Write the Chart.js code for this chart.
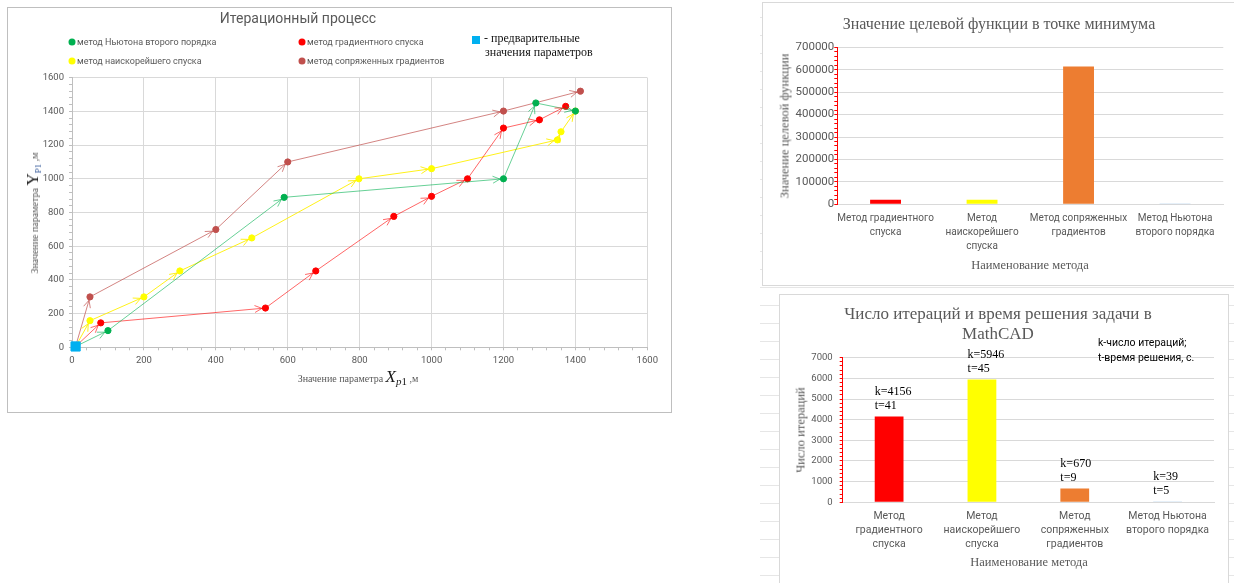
<!DOCTYPE html>
<html>
<head>
<meta charset="utf-8">
<script src="https://cdn.jsdelivr.net/npm/chart.js@4.4.1/dist/chart.umd.min.js"></script>
<style>
  body { margin: 0; width: 1234px; height: 583px; position: relative; overflow: hidden; background: #fff; }
  .sheet { position: absolute; left: 760px; top: 0; width: 474px; height: 583px;
    background: repeating-linear-gradient(to bottom, transparent 0 17px, #E6E6E6 17px 18px); }
  .box { position: absolute; background: #fff; box-sizing: border-box; }
  canvas { position: absolute; }
  .c { position: absolute; white-space: nowrap; transform: translate(-50%, -50%); }
  .l { position: absolute; white-space: nowrap; transform: translateY(-50%); }
  .sans { font-family: Roboto, "Open Sans", sans-serif; color: #595959; }
  .serif { font-family: "Liberation Serif", "Times New Roman", serif; color: #595959; }
  .rot { transform: translate(-50%, -50%) rotate(-90deg); }
  .dot { position: absolute; width: 7px; height: 7px; border-radius: 50%; transform: translate(-50%, -50%); }
</style>
</head>
<body>
<div class="sheet"></div>

<!-- график 1: итерационный процесс -->
<div class="box" style="left:7px;top:7px;width:665px;height:406px;border:1px solid #BFBFBF"></div>
<canvas id="iter" width="663" height="404" style="left:8px;top:8px"></canvas>
<div class="c sans" style="left:298px;top:18px;font-size:14px">Итерационный процесс</div>
<div class="dot" style="left:72px;top:42px;background:#00B050"></div>
<div class="l sans" style="left:77px;top:42px;font-size:9px">метод Ньютона второго порядка</div>
<div class="dot" style="left:72px;top:61px;background:#FFFF00"></div>
<div class="l sans" style="left:77px;top:61px;font-size:9px">метод наискорейшего спуска</div>
<div class="dot" style="left:302px;top:42px;background:#FF0000"></div>
<div class="l sans" style="left:307px;top:42px;font-size:9px">метод градиентного спуска</div>
<div class="dot" style="left:302px;top:61px;background:#C0504D"></div>
<div class="l sans" style="left:307px;top:61px;font-size:9px">метод сопряженных градиентов</div>
<div style="position:absolute;left:472px;top:36px;width:8px;height:8px;background:#00B0F0"></div>
<div class="l serif" style="left:484px;top:38px;font-size:12px;color:#111">- предварительные</div>
<div class="l serif" style="left:485px;top:52px;font-size:12px;color:#111">значения параметров</div>
<div class="c serif rot" style="left:33px;top:213px;font-size:10px">Значение параметра <span style="font-size:17px;color:#1a1a1a">Y</span><sub style="font-size:9px;color:#2F5597">P1</sub> ,м</div>
<div class="c serif" style="left:358px;top:377px;font-size:10px">Значение параметра <i style="font-size:17px;color:#1a1a1a">X</i><sub style="font-size:11px;color:#1a1a1a"><i>p</i>1</sub> ,м</div>

<!-- график 2: значение целевой функции -->
<div class="box" style="left:762px;top:2px;width:480px;height:284px;border:1px solid #D9D9D9"></div>
<canvas id="obj" width="471" height="282" style="left:763px;top:3px"></canvas>
<div class="c serif" style="left:999px;top:24px;font-size:16px">Значение целевой функции в точке минимума</div>
<div class="c serif rot" style="left:785px;top:126px;font-size:12.5px">Значение целевой функции</div>
<div class="c serif" style="left:1030px;top:265px;font-size:12.5px">Наименование метода</div>

<!-- график 3: число итераций -->
<div class="box" style="left:779px;top:294px;width:450px;height:300px;border:1px solid #D9D9D9"></div>
<canvas id="cnt" width="447" height="288" style="left:780px;top:295px"></canvas>
<div class="c serif" style="left:998px;top:314px;font-size:17px">Число итераций и время решения задачи в</div>
<div class="c serif" style="left:998px;top:334px;font-size:17px">MathCAD</div>
<div class="l sans" style="left:1098px;top:342px;font-size:10.5px;color:#000">k-число итераций;</div>
<div class="l sans" style="left:1098px;top:357px;font-size:10.5px;color:#000">t-время решения, с.</div>
<div class="c serif rot" style="left:801px;top:430px;font-size:12.5px">Число итераций</div>
<div class="c serif" style="left:1029px;top:562px;font-size:12.5px">Наименование метода</div>

<script>
Chart.defaults.animation = false;

// ---- данные: итерационный процесс (X, Y в метрах)
const initX = [10];
const initY = [5];
const newtonX = [10, 100, 590, 1200, 1290, 1400];
const newtonY = [5, 99, 890, 1000, 1450, 1402];
const gradX = [10, 80, 538, 678, 895, 1000, 1100, 1200, 1300, 1373];
const gradY = [5, 145, 233, 453, 777, 896, 1000, 1301, 1350, 1430];
const steepX = [10, 50, 200, 300, 500, 798, 1000, 1350, 1360, 1400];
const steepY = [5, 158, 299, 453, 649, 1000, 1060, 1231, 1279, 1402];
const conjX = [10, 50, 400, 600, 1200, 1414];
const conjY = [5, 299, 699, 1100, 1402, 1520];
const iterTicks = [0, 200, 400, 600, 800, 1000, 1200, 1400, 1600];

// ---- данные: сравнение методов
const methodsObj = [
  ['Метод градиентного', 'спуска'],
  ['Метод', 'наискорейшего', 'спуска'],
  ['Метод сопряженных', 'градиентов'],
  ['Метод Ньютона', 'второго порядка']
];
const methodsCnt = [
  ['Метод', 'градиентного', 'спуска'],
  ['Метод', 'наискорейшего', 'спуска'],
  ['Метод', 'сопряженных', 'градиентов'],
  ['Метод Ньютона', 'второго порядка']
];
const objValues = [20000, 20000, 614000, 500];
const objTicks = [0, 100000, 200000, 300000, 400000, 500000, 600000, 700000];
const kValues = [4156, 5946, 670, 39];
const tValues = [41, 45, 9, 5];
const cntTicks = [0, 1000, 2000, 3000, 4000, 5000, 6000, 7000];

const barColors = ['#FF0000', '#FFFF00', '#ED7D31', '#9DC3E6'];

function pts(xs, ys) {
  return xs.map((x, i) => ({ x: x, y: ys[i] }));
}

// стрелки на концах отрезков
const arrowPlugin = {
  id: 'arrows',
  afterDatasetsDraw(chart) {
    const ctx = chart.ctx;
    chart.data.datasets.forEach((ds, di) => {
      if (!ds.arrows) return;
      const el = chart.getDatasetMeta(di).data;
      ctx.save();
      ctx.strokeStyle = ds.borderColor;
      ctx.lineWidth = 1;
      for (let i = 1; i < el.length; i++) {
        const a = el[i - 1], b = el[i];
        const ang = Math.atan2(b.y - a.y, b.x - a.x);
        const tx = b.x - Math.cos(ang) * 3.5, ty = b.y - Math.sin(ang) * 3.5;
        ctx.beginPath();
        ctx.moveTo(tx - 8 * Math.cos(ang - 0.45), ty - 8 * Math.sin(ang - 0.45));
        ctx.lineTo(tx, ty);
        ctx.lineTo(tx - 8 * Math.cos(ang + 0.45), ty - 8 * Math.sin(ang + 0.45));
        ctx.stroke();
      }
      ctx.restore();
    });
  }
};

function line(label, xs, ys, lineColor, dotColor) {
  return {
    label: label,
    data: pts(xs, ys),
    showLine: true,
    borderColor: lineColor,
    borderWidth: 1,
    pointBackgroundColor: dotColor,
    pointBorderColor: dotColor,
    pointRadius: c => c.dataIndex === 0 ? 0 : 3.1,
    arrows: true,
    clip: false
  };
}

const gridStyle = major => ({
  color: c => c.tick && major.includes(c.tick.value) ? '#D9D9D9' : 'rgba(0,0,0,0)',
  tickColor: '#BFBFBF',
  tickLength: 3
});
const tickFont = { family: 'Roboto', size: 9.5 };

new Chart(document.getElementById('iter'), {
  type: 'scatter',
  data: {
    datasets: [
      { label: 'предварительные значения параметров', data: pts(initX, initY), pointStyle: 'rect',
        pointRadius: 6.5, backgroundColor: '#00B0F0', borderColor: '#00B0F0', clip: false },
      line('метод Ньютона второго порядка', newtonX, newtonY, 'rgba(0,176,80,0.6)', '#00B050'),
      line('метод градиентного спуска', gradX, gradY, 'rgba(255,0,0,0.6)', '#FF0000'),
      line('метод наискорейшего спуска', steepX, steepY, 'rgba(255,240,0,0.9)', '#FFFF00'),
      line('метод сопряженных градиентов', conjX, conjY, 'rgba(192,80,77,0.7)', '#C0504D')
    ]
  },
  options: {
    responsive: false,
    devicePixelRatio: 1,
    layout: { padding: { left: 0, top: 69.7, right: 23.7, bottom: 0 } },
    plugins: { legend: { display: false }, tooltip: { enabled: false } },
    scales: {
      x: {
        type: 'linear', min: 0, max: 1600,
        afterFit: s => { s.height = 64.7; },
        ticks: { stepSize: 40, autoSkip: false, maxRotation: 0, padding: 4.7, color: '#595959', font: tickFont,
          callback: v => iterTicks.includes(v) ? v : '' },
        grid: gridStyle(iterTicks),
        border: { color: '#BFBFBF' }
      },
      y: {
        min: 0, max: 1600,
        afterFit: s => { s.width = 64; },
        ticks: { stepSize: 40, autoSkip: false, padding: 5, color: '#595959', font: tickFont,
          callback: v => iterTicks.includes(v) ? v : '' },
        grid: gridStyle(iterTicks),
        border: { color: '#BFBFBF' }
      }
    }
  },
  plugins: [arrowPlugin]
});

// подписи k / t над столбцами
const kLabelPlugin = {
  id: 'kLabels',
  afterDatasetsDraw(chart) {
    const ctx = chart.ctx;
    const bars = chart.getDatasetMeta(0).data;
    ctx.save();
    ctx.font = '12px "Liberation Serif"';
    ctx.fillStyle = '#000';
    ctx.textAlign = 'left';
    ctx.textBaseline = 'middle';
    bars.forEach((b, i) => {
      const left = b.x - b.width / 2;
      ctx.fillText('k=' + kValues[i], left, b.y - 24.5);
      ctx.fillText('t=' + tValues[i], left, b.y - 10.5);
    });
    ctx.restore();
  }
};

function barChart(id, labels, values, ticks, step, pad, xh, yw, yFont, yPad, xFont, barPct, extra) {
  return new Chart(document.getElementById(id), {
    type: 'bar',
    data: {
      labels: labels,
      datasets: [{ data: values, backgroundColor: barColors, borderWidth: 0,
        barPercentage: barPct, categoryPercentage: 1 }]
    },
    options: {
      responsive: false,
      devicePixelRatio: 1,
      layout: { padding: pad },
      plugins: { legend: { display: false }, tooltip: { enabled: false } },
      scales: {
        x: {
          afterFit: s => { s.height = xh; },
          grid: { display: false, drawTicks: false },
          border: { color: '#D9D9D9' },
          ticks: { color: '#595959', padding: 7.4, maxRotation: 0, autoSkip: false,
            font: { family: 'Roboto', size: xFont, lineHeight: 14 / xFont } }
        },
        y: {
          min: 0, max: ticks[ticks.length - 1],
          afterFit: s => { s.width = yw; },
          ticks: { stepSize: step, autoSkip: false, padding: yPad, color: '#595959',
            font: { family: 'Roboto', size: yFont },
            callback: v => ticks.includes(v) ? v : '' },
          grid: {
            color: c => c.tick && ticks.includes(c.tick.value) ? '#D9D9D9' : 'rgba(0,0,0,0)',
            tickColor: '#FF0000', tickLength: 3
          },
          border: { color: '#FF0000' }
        }
      }
    },
    plugins: extra
  });
}

barChart('obj', methodsObj, objValues, objTicks, 20000,
  { left: 0, top: 44.3, right: 10.7, bottom: 0 }, 80.7, 74.3, 11.5, 0, 10, 0.32, []);

barChart('cnt', methodsCnt, kValues, cntTicks, 200,
  { left: 0, top: 62.7, right: 13, bottom: 0 }, 80.7, 62.7, 9.5, 7, 10.5, 0.31, [kLabelPlugin]);
</script>
</body>
</html>
